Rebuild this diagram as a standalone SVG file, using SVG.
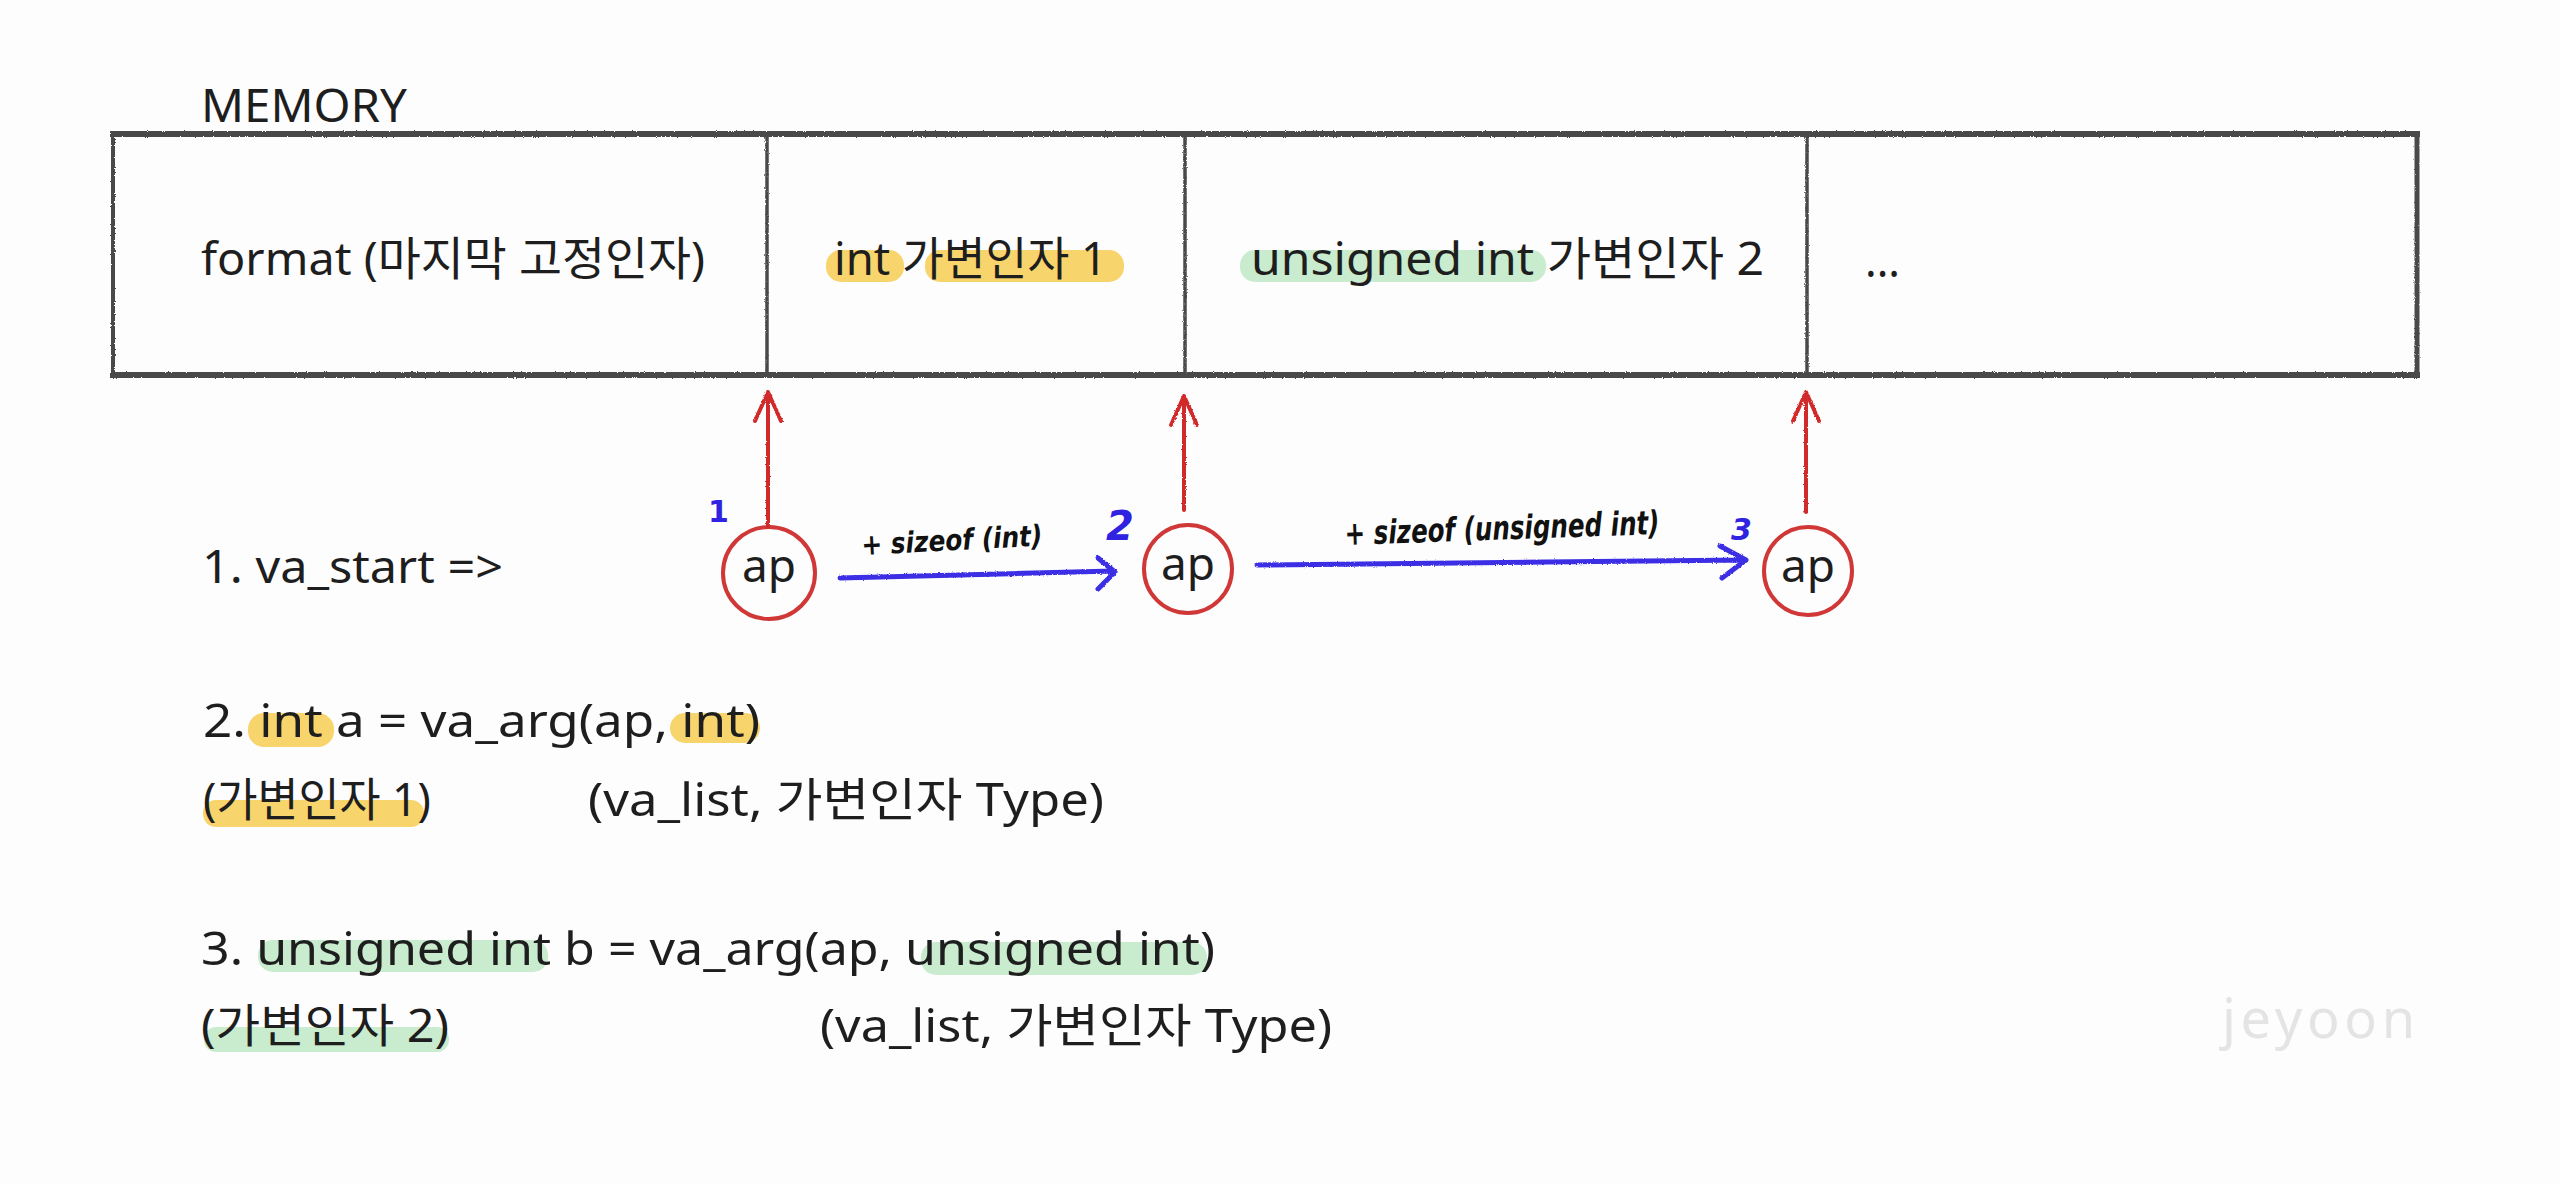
<svg xmlns="http://www.w3.org/2000/svg" width="2560" height="1184" viewBox="0 0 2560 1184">
<defs>
<style>
.t{font-family:"Noto Sans","Noto Sans CJK KR",sans-serif;font-size:46px;fill:#1e1e1e}
.hand{font-family:"DejaVu Sans","Liberation Sans",sans-serif;font-style:italic;font-weight:bold;fill:#111}
.num{font-family:"DejaVu Sans","Liberation Sans",sans-serif;font-weight:bold;fill:#2f22e0}
.hy{fill:#f8d46c}
.hg{fill:#c9ecce}
.box{fill:none;stroke:#4a4a4a;stroke-linecap:square}
.red{fill:none;stroke:#d02c2c;stroke-width:4;stroke-linecap:round;stroke-linejoin:round}
.circ{fill:none;stroke:#d03838;stroke-width:4}
.blue{fill:none;stroke:#3a2de4;stroke-width:5;stroke-linecap:round;stroke-linejoin:round}
</style>
<filter id="rough" filterUnits="userSpaceOnUse" x="0" y="0" width="2560" height="1184">
<feTurbulence type="fractalNoise" baseFrequency="0.9" numOctaves="2" seed="3" result="n"/>
<feDisplacementMap in="SourceGraphic" in2="n" scale="2.5" xChannelSelector="R" yChannelSelector="G"/>
</filter>
</defs>
<rect width="2560" height="1184" fill="#fdfdfd"/>

<text class="t" x="201" y="122" textLength="206" lengthAdjust="spacingAndGlyphs">MEMORY</text>

<g id="memory-box" filter="url(#rough)">
<line class="box" x1="113" y1="134" x2="2417" y2="134" stroke-width="6"/>
<line class="box" x1="113" y1="375" x2="2417" y2="375" stroke-width="6"/>
<line class="box" x1="113" y1="134" x2="113" y2="375" stroke-width="4"/>
<line class="box" x1="2417" y1="134" x2="2417" y2="375" stroke-width="5"/>
</g>

<g id="cell-format">
<line class="box" x1="767" y1="134" x2="767" y2="375" stroke-width="3.5" filter="url(#rough)"/>
<text class="t" x="201" y="275" textLength="504" lengthAdjust="spacingAndGlyphs">format (마지막 고정인자)</text>
</g>

<g id="cell-int">
<line class="box" x1="1185" y1="134" x2="1185" y2="375" stroke-width="3.5" filter="url(#rough)"/>
<rect class="hy" x="826" y="250" width="78" height="32" rx="15"/>
<rect class="hy" x="925" y="250" width="199" height="32" rx="15"/>
<text class="t" x="834" y="275" textLength="273" lengthAdjust="spacingAndGlyphs">int 가변인자 1</text>
</g>

<g id="cell-unsigned">
<line class="box" x1="1807" y1="134" x2="1807" y2="375" stroke-width="3.5" filter="url(#rough)"/>
<rect class="hg" x="1240" y="250" width="306" height="32" rx="15"/>
<text class="t" x="1251" y="275" textLength="513" lengthAdjust="spacingAndGlyphs">unsigned int 가변인자 2</text>
</g>

<g id="cell-more">
<text class="t" x="1865" y="277" textLength="35" lengthAdjust="spacingAndGlyphs">...</text>
</g>

<g id="ap1">
<circle class="circ" cx="769" cy="573" r="46"/>
<text class="t" x="769" y="582" text-anchor="middle">ap</text>
<text class="num" x="708" y="522" font-size="30">1</text>
</g>
<g id="ap2">
<circle class="circ" cx="1188" cy="569" r="44"/>
<text class="t" x="1188" y="580" text-anchor="middle">ap</text>
<text class="num" x="1106" y="540" font-size="40" font-style="italic">2</text>
</g>
<g id="ap3">
<circle class="circ" cx="1808" cy="571" r="44"/>
<text class="t" x="1808" y="582" text-anchor="middle">ap</text>
<text class="num" x="1731" y="540" font-size="30" font-style="italic">3</text>
</g>

<g id="connectors">
<g filter="url(#rough)">
<path class="red" d="M768 527 L768 392 M755 421 L768 392 L781 421"/>
<path class="red" d="M1184 510 L1184 396 M1171 425 L1184 396 L1197 425"/>
<path class="red" d="M1806 512 L1806 392 M1793 421 L1806 392 L1819 421"/>
<path class="blue" d="M840 578 L1114 571 M1098 558 L1115 572 L1098 589"/>
<path class="blue" d="M1257 565 L1745 560 M1720 546 L1746 560 L1722 578"/>
</g>
<text class="hand" x="862" y="555" font-size="29" textLength="181" lengthAdjust="spacingAndGlyphs" transform="rotate(-3 862 555)">+ sizeof (int)</text>
<text class="hand" x="1345" y="545" font-size="33" textLength="315" lengthAdjust="spacingAndGlyphs" transform="rotate(-2 1345 545)">+ sizeof (unsigned int)</text>
</g>

<g id="step1">
<text class="t" x="202" y="583" textLength="301" lengthAdjust="spacingAndGlyphs">1. va_start =&gt;</text>
</g>

<g id="step2">
<rect class="hy" x="248" y="713" width="86" height="34" rx="16"/>
<rect class="hy" x="670" y="713" width="90" height="30" rx="15"/>
<rect class="hy" x="203" y="800" width="221" height="27" rx="13"/>
<text class="t" x="203" y="737" textLength="557" lengthAdjust="spacingAndGlyphs">2. int a = va_arg(ap, int)</text>
<text class="t" x="203" y="816" textLength="228" lengthAdjust="spacingAndGlyphs">(가변인자 1)</text>
<text class="t" x="588" y="816" textLength="516" lengthAdjust="spacingAndGlyphs">(va_list, 가변인자 Type)</text>
</g>

<g id="step3">
<rect class="hg" x="258" y="940" width="290" height="32" rx="15"/>
<rect class="hg" x="921" y="942" width="286" height="33" rx="15"/>
<rect class="hg" x="204" y="1027" width="245" height="25" rx="12"/>
<text class="t" x="201" y="965" textLength="1014" lengthAdjust="spacingAndGlyphs">3. unsigned int b = va_arg(ap, unsigned int)</text>
<text class="t" x="201" y="1042" textLength="248" lengthAdjust="spacingAndGlyphs">(가변인자 2)</text>
<text class="t" x="820" y="1042" textLength="512" lengthAdjust="spacingAndGlyphs">(va_list, 가변인자 Type)</text>
</g>

<text x="2222" y="1038" font-family="Noto Sans, sans-serif" font-size="54" fill="#e4e4e4" textLength="193" lengthAdjust="spacing">jeyoon</text>
</svg>
